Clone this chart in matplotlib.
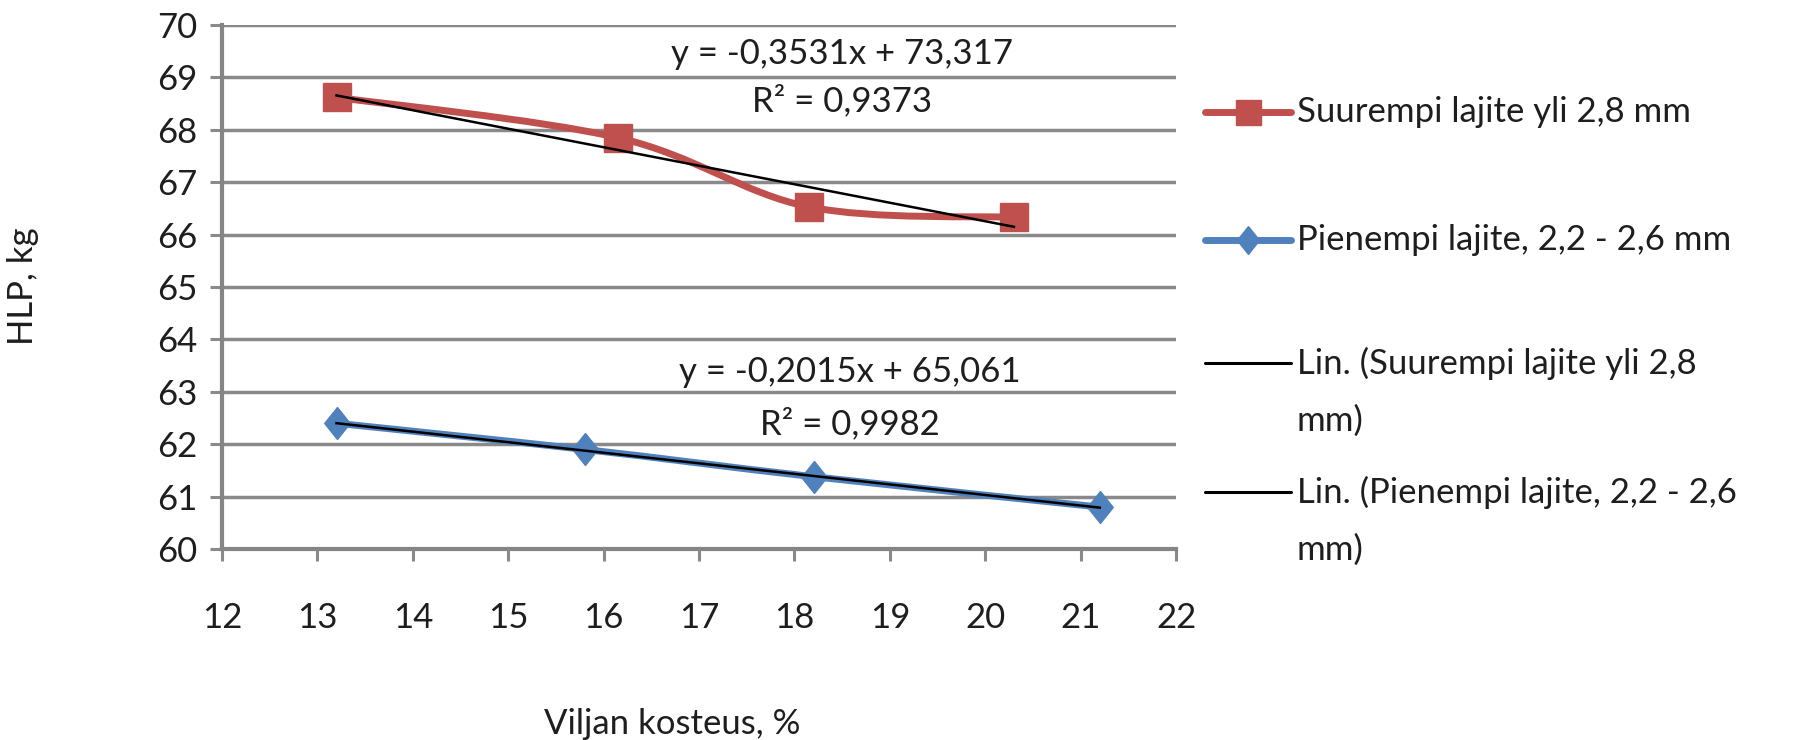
import numpy as np
import matplotlib
matplotlib.use("Agg")
import matplotlib.pyplot as plt
from matplotlib.path import Path
from matplotlib.patches import PathPatch
from matplotlib.lines import Line2D

plt.rcParams['font.family'] = ['Lato', 'DejaVu Sans']

# values
large_x = [13.2, 16.15, 18.15, 20.3]
large_y = [68.62, 67.85, 66.53, 66.33]
small_x = [13.2, 15.8, 18.2, 21.2]
small_y = [62.4, 61.9, 61.38, 60.8]

# trendline coefficients as printed on the chart
large_fit = (-0.3531, 73.317)
small_fit = (-0.2015, 65.061)
large_eq = ["y = -0,3531x + 73,317", "R² = 0,9373"]
small_eq = ["y = -0,2015x + 65,061", "R² = 0,9982"]

x_ticks = list(range(12, 23))
y_ticks = list(range(60, 71))

legend_labels = [
    ["Suurempi lajite yli 2,8 mm"],
    ["Pienempi lajite, 2,2 - 2,6 mm"],
    ["Lin. (Suurempi lajite yli 2,8", "mm)"],
    ["Lin. (Pienempi lajite, 2,2 - 2,6", "mm)"],
]

red = '#C0504D'
blue = '#4F81BD'
grid_col = '#8a8a8a'
txt_col = '#1e1e1e'
fs = 25


def smooth_path(xs, ys):
    # excel style smoothed line as cubic bezier segments
    pts = np.column_stack([xs, ys])
    n = len(pts)
    verts = [pts[0]]
    codes = [Path.MOVETO]
    for i in range(n - 1):
        p0 = pts[max(i - 1, 0)]
        p1 = pts[i]
        p2 = pts[i + 1]
        p3 = pts[min(i + 2, n - 1)]
        verts += [p1 + (p2 - p0) / 6, p2 - (p3 - p1) / 6, p2]
        codes += [Path.CURVE4] * 3
    return Path(verts, codes)


diamond = [(0, 1), (0.8, 0), (0, -1), (-0.8, 0), (0, 1)]

fig = plt.figure(figsize=(18.08, 7.4), dpi=100)
ax = fig.add_axes([0.1228, 0.2581, 0.5277, 0.7081])

# series lines
for xs, ys, col in [(large_x, large_y, red), (small_x, small_y, blue)]:
    ax.add_patch(PathPatch(smooth_path(xs, ys), fill=False, edgecolor=col,
                           linewidth=5, capstyle='round', joinstyle='round', zorder=3))
ax.plot(large_x, large_y, linestyle='none', marker='s', markersize=20,
        color=red, markeredgecolor=red, zorder=4)
ax.plot(small_x, small_y, linestyle='none', marker=diamond, markersize=23,
        color=blue, markeredgecolor=blue, zorder=4)

# trendlines
for xs, fit in [(large_x, large_fit), (small_x, small_fit)]:
    tx = np.array([min(xs), max(xs)])
    ax.plot(tx, fit[0] * tx + fit[1], color='black', linewidth=1.8, zorder=5)

# equation labels
ax.text(18.5, 69.45, large_eq[0], ha='center', va='center', fontsize=fs, color=txt_col)
ax.text(18.5, 68.55, large_eq[1], ha='center', va='center', fontsize=fs, color=txt_col)
ax.text(18.58, 63.38, small_eq[0], ha='center', va='center', fontsize=fs, color=txt_col)
ax.text(18.58, 62.39, small_eq[1], ha='center', va='center', fontsize=fs, color=txt_col)

ax.set_xlim(12, 22)
ax.set_ylim(60, 70)
ax.set_xticks(x_ticks)
ax.set_yticks(y_ticks)
ax.tick_params(axis='both', direction='out', length=8.5, width=2.2, color=grid_col,
               labelsize=fs, labelcolor=txt_col)
ax.tick_params(axis='x', pad=30)
ax.tick_params(axis='y', pad=9)
ax.yaxis.grid(True, color=grid_col, linewidth=2.5)
ax.set_axisbelow(True)
for side in ['top', 'right']:
    ax.spines[side].set_visible(False)
for side in ['left', 'bottom']:
    ax.spines[side].set_color('#858585')
    ax.spines[side].set_linewidth(3)

ax.set_xlabel("Viljan kosteus, %", fontsize=fs, color=txt_col, va='center')
ax.xaxis.set_label_coords(0.4717, -0.334)
ax.set_ylabel("HLP, kg", fontsize=fs, color=txt_col, va='center')
ax.yaxis.set_label_coords(-0.2086, 0.502)

# legend drawn by hand to match the spacing of the original
W, H = 1808.0, 740.0
rows = [112, 240, 363, 492]
styles = [dict(color=red, linewidth=5, marker='s', markersize=18),
          dict(color=blue, linewidth=5, marker=diamond, markersize=20),
          dict(color='black', linewidth=2.2),
          dict(color='black', linewidth=2.2)]
for lines, y, st in zip(legend_labels, rows, styles):
    yf = 1 - y / H
    fig.add_artist(Line2D([1205 / W, 1248 / W, 1291 / W], [yf, yf, yf],
                          transform=fig.transFigure, markevery=[1],
                          solid_capstyle='round', **st))
    for k, line in enumerate(lines):
        fig.text(1297 / W, 1 - (y + 58 * k) / H, line, ha='left', va='center',
                 fontsize=fs, color=txt_col)

fig.savefig('out.png', dpi=100)
